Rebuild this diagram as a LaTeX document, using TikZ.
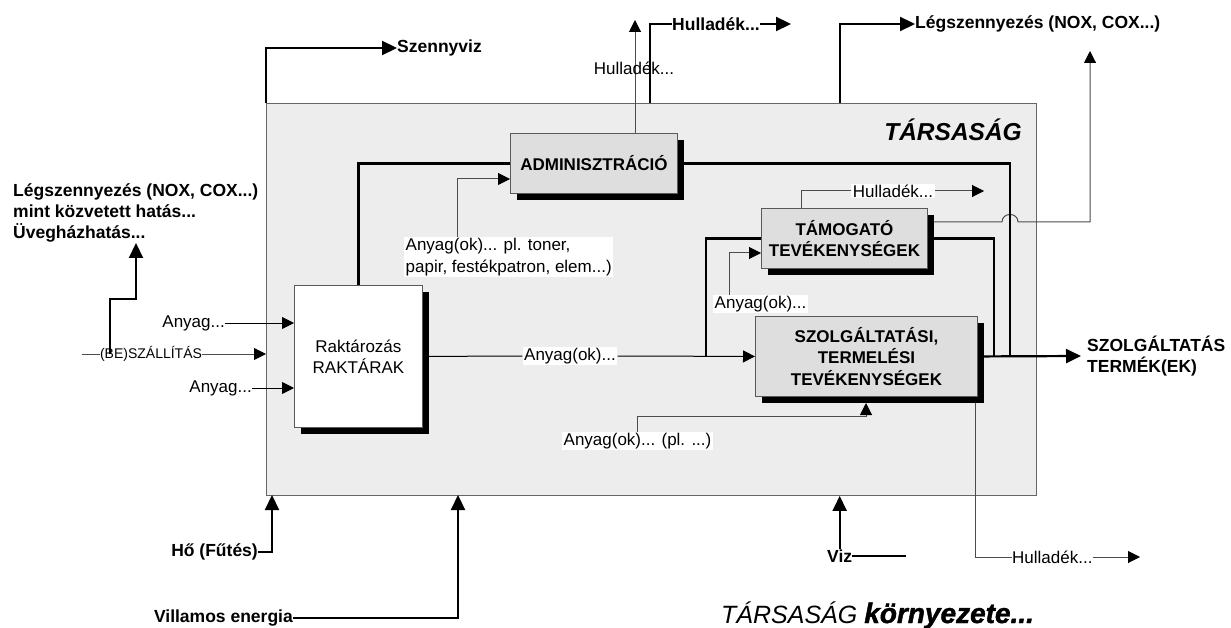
\documentclass[tikz,border=0pt]{standalone}
\usepackage{fontspec}
\setmainfont{Liberation Sans}
\newfontfamily\heavyfont[BoldItalicFeatures={FakeBold=1.5}]{Liberation Sans}
\usetikzlibrary{arrows.meta,shadows}
\pgfdeclarelayer{back}
\pgfdeclarelayer{conn}
\pgfsetlayers{back,conn,main}
\begin{document}
\begin{tikzpicture}[x=1pt,y=-1pt,
  rg/.style={font=\fontsize{17}{20}\selectfont, inner sep=0pt},
  bl/.style={font=\fontsize{17.5}{21}\selectfont\bfseries, inner sep=0pt},
  sm/.style={font=\fontsize{14}{16}\selectfont, inner sep=0pt},
  wbg/.style={fill=white, inner xsep=1.5pt, inner ysep=1pt},
  procbox/.style={draw=black!65, line width=0.9pt, fill=black!13, align=center, inner sep=0pt,
     font=\fontsize{17}{21.5}\selectfont\bfseries,
     drop shadow={shadow xshift=7pt, shadow yshift=-7pt, fill=black, opacity=1}},
  thk/.style={line width=2.2pt, draw=black},
  thn/.style={line width=1pt, draw=black!70},
  tA/.style={-{Triangle[length=12pt,width=12pt,color=black,fill=black]}},
  tB/.style={-{Triangle[length=15pt,width=14pt]}},
]
\useasboundingbox (0,0) rectangle (1231,628);
\begin{pgfonlayer}{back}
\fill[white] (0,0) rectangle (1231,628);
\node[draw=black!60, fill=black!7, line width=0.9pt, minimum width=770pt, minimum height=392pt,
      anchor=north west, inner sep=0pt] (soc) at (266,103) {};
\end{pgfonlayer}

% process boxes
\node[procbox, minimum width=167pt, minimum height=60pt, anchor=north west] (admin) at (510,133) {ADMINISZTR\'ACI\'O};
\node[procbox, minimum width=166pt, minimum height=60pt, anchor=north west] (tam) at (761,208) {T\'AMOGAT\'O\\TEV\'EKENYS\'EGEK};
\node[procbox, minimum width=222pt, minimum height=80pt, anchor=north west] (szolg) at (755,316) {SZOLG\'ALTAT\'ASI,\\TERMEL\'ESI\\TEV\'EKENYS\'EGEK};
\node[procbox, fill=white, font=\fontsize{17}{21}\selectfont, minimum width=128pt, minimum height=142pt, anchor=north west] (rakt) at (294,285) {Rakt\'aroz\'as\\RAKT\'ARAK};

% titles
\node[anchor=east, inner sep=0pt, font=\fontsize{24.5}{28}\selectfont\bfseries\itshape] (tt) at (1022,130) {T\'ARSAS\'AG};
\node[anchor=base west, inner sep=0pt] (env) at (721,623) {\fontsize{25}{28}\selectfont\itshape T\'ARSAS\'AG {\heavyfont\bfseries\itshape\fontsize{28}{30}\selectfont k\"ornyezete...}};

% labels
\node[rg] (hA) at (634,68) {Hullad\'ek...};
\node[bl, anchor=west] (hB) at (672,24) {Hullad\'ek...};
\node[bl, anchor=west] (lT) at (915,24) {L\'egszennyez\'es (NOX, COX...)};
\node[bl, anchor=west] (szv) at (397,48) {Szennyviz};
\node[bl, align=left, anchor=west] (out) at (1087,356) {SZOLG\'ALTAT\'AS\\TERM\'EK(EK)};
\node[rg, wbg] (am) at (570,356) {Anyag(ok)...};
\node[rg, wbg, anchor=west] (aT) at (713,304) {Anyag(ok)...};
\node[rg, wbg] (hT) at (893,191) {Hullad\'ek...};
\node[rg, wbg] (aS) at (637.5,441) {Anyag(ok)... (pl. ...)};
\node[rg, anchor=west] (hS) at (1012,557) {Hullad\'ek...};
\node[rg, wbg, align=left, anchor=north west, font=\fontsize{17}{22}\selectfont] (aA) at (404,237) {Anyag(ok)... pl. toner,\\papir, fest\'ekpatron, elem...)};
\node[rg, anchor=east] (a1) at (225,323) {Anyag...};
\node[rg, anchor=east] (a2) at (252,388) {Anyag...};
\node[sm] (be) at (151,354) {(BE)SZ\'ALL\'IT\'AS};
\node[bl, align=left, anchor=north west] (ll) at (13,183) {L\'egszennyez\'es (NOX, COX...)\\mint k\"ozvetett hat\'as...\\\"Uvegh\'azhat\'as...};
\node[bl, anchor=east] (ho) at (258,552) {H\H{o} (F\H{u}t\'es)};
\node[bl, anchor=east] (ve) at (293,618) {Villamos energia};
\node[bl, anchor=west] (viz) at (827,556) {Viz};

% free ends and bends
\coordinate (hAtip) at (635,20);
\coordinate (hBbase) at (650,103);
\coordinate (hBtip) at (791,24);
\coordinate (lTbase) at (840,103);
\coordinate (j1) at (1002,222);
\coordinate (j2) at (1018,222);
\coordinate (j3) at (1090,222);
\coordinate (lUtip) at (1090,51);
\coordinate (aR) at (1010,356);
\coordinate (tR) at (994,356);
\coordinate (tL) at (706,356);
\coordinate (outtip) at (1081,356);
\coordinate (aTc) at (729,253);
\coordinate (hTb) at (801,208);
\coordinate (hTtip) at (984,191);
\coordinate (aSk) at (866,416);
\coordinate (aStip) at (866,403);
\coordinate (hSb) at (975,396);
\coordinate (hStip) at (1140,557);
\coordinate (aAc) at (457,179);
\coordinate (be0) at (82,354);
\coordinate (bev) at (110,354);
\coordinate (bek) at (110,299);
\coordinate (lltip) at (136,243);
\coordinate (hotip) at (272,495);
\coordinate (vetip) at (458,495);
\coordinate (vze) at (906,556);

\begin{pgfonlayer}{conn}
\draw[thn,tA] (admin.north -| hAtip) -- (hAtip);
\draw[thk] (hBbase) |- (hB.west);
\draw[thk,tB] (hB.east) -- (hBtip);
\draw[thk,tB] (lTbase) |- (lT.west);
\draw[thk,tB] (soc.north west) |- (szv.west);
\draw[thn,tA] (tam.east |- j1) -- (j1) .. controls +(0,-10) and +(0,-10) .. (j2) -- (j3) -- (lUtip);
\draw[thk] (admin.east) -| (aR);
\draw[thk] (tam.east) -| (tR);
\draw[thk] (tam.west) -| (tL);
\draw[thk,tB] (szolg.east) -- (outtip);
\draw[thn,draw=black] (rakt.east) -- (am.west);
\draw[thn,draw=black,tA] (am.east) -- (szolg.west);
\draw[thn,tA] (aT.north -| aTc) -- (aTc) -- (tam.west |- aTc);
\draw[thn] (hTb) |- (hT.west);
\draw[thn,tA] (hT.east) -- (hTtip);
\draw[thn,tA] (aS.north) |- (aSk) -- (aStip);
\draw[thn] (hSb) |- (hS.west);
\draw[thn,tA] (hS.east) -- (hStip);
\draw[thn,tA] (aA.north -| aAc) -- (aAc) -- (admin.west |- aAc);
\draw[thk] (admin.west) -| (rakt.north);
\draw[thn,draw=black,tA] (a1.east) -- (rakt.west |- a1.east);
\draw[thn,draw=black,tA] (a2.east) -- (rakt.west |- a2.east);
\draw[thn] (be0) -- (be.west);
\draw[thn,tA] (be.east) -- (soc.west |- be.east);
\draw[thk,tB] (bev) -- (bek) -| (lltip);
\draw[thk,tB] (ho.east) -| (hotip);
\draw[thk,tB] (ve.east) -| (vetip);
\draw[thk,tB] (viz.north) -- (viz.north |- soc.south);
\draw[thk] (viz.east) -- (vze);
\end{pgfonlayer}
\end{tikzpicture}
\end{document}
